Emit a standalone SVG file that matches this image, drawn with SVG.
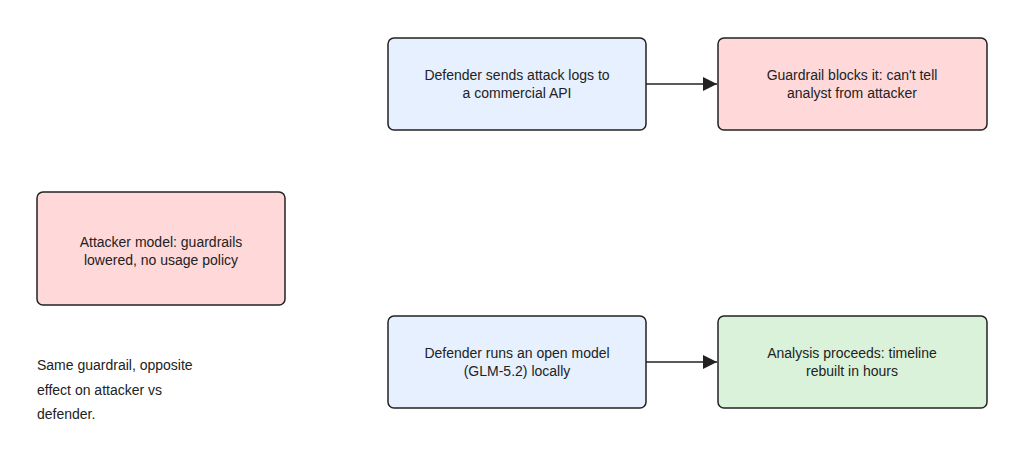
<svg xmlns="http://www.w3.org/2000/svg" width="1024" height="473" viewBox="0 0 1024 473">
<style>
.box{stroke:#222;stroke-width:1.5}
.blue{fill:#e6f0ff}
.red{fill:#ffd9d9}
.green{fill:#daf2da}
text{font-family:"Liberation Sans",Arial,sans-serif;font-size:14px;fill:#222}
.c{text-anchor:middle}
.edge{stroke:#222;stroke-width:1.5;fill:none}
</style>
<defs>
<marker id="arr" viewBox="0 0 10 10" refX="10" refY="5" markerWidth="15" markerHeight="14" markerUnits="userSpaceOnUse" orient="auto">
<path d="M0,0 L10,5 L0,10 z" fill="#222"/>
</marker>
</defs>
<rect width="1024" height="473" fill="#fff"/>
<g id="connectors">
<path class="edge" d="M646,84 L717,84" marker-end="url(#arr)"/>
<path class="edge" d="M646,362 L717,362" marker-end="url(#arr)"/>
</g>
<g id="defender-api">
<rect class="box blue" x="388" y="38" width="258" height="92" rx="6"/>
<text class="c" x="517" y="80">Defender sends attack logs to</text>
<text class="c" x="517" y="98">a commercial API</text>
</g>
<g id="guardrail-blocks">
<rect class="box red" x="718" y="38" width="269" height="92" rx="6"/>
<text class="c" x="852" y="80">Guardrail blocks it: can't tell</text>
<text class="c" x="852" y="98">analyst from attacker</text>
</g>
<g id="attacker-model">
<rect class="box red" x="37" y="192" width="248" height="113" rx="6"/>
<text class="c" x="161" y="247">Attacker model: guardrails</text>
<text class="c" x="161" y="265">lowered, no usage policy</text>
</g>
<g id="defender-local">
<rect class="box blue" x="388" y="316" width="258" height="92" rx="6"/>
<text class="c" x="517" y="358">Defender runs an open model</text>
<text class="c" x="517" y="376">(GLM-5.2) locally</text>
</g>
<g id="analysis-proceeds">
<rect class="box green" x="718" y="316" width="269" height="92" rx="6"/>
<text class="c" x="852" y="358">Analysis proceeds: timeline</text>
<text class="c" x="852" y="376">rebuilt in hours</text>
</g>
<g id="note">
<text x="37" y="370">Same guardrail, opposite</text>
<text x="37" y="395">effect on attacker vs</text>
<text x="37" y="419">defender.</text>
</g>
</svg>
